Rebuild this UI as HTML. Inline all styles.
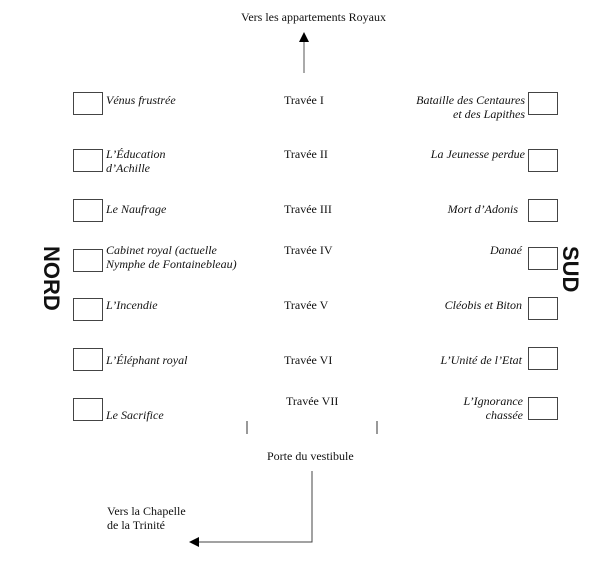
<!DOCTYPE html>
<html><head><meta charset="utf-8"><style>
body{margin:0;width:610px;height:576px;background:#fff;position:relative;overflow:hidden;font-family:"Liberation Serif",serif;font-size:12px;color:#111}
.t{position:absolute;line-height:14px;white-space:nowrap}
.i{font-style:italic}
.r{text-align:right}
.b{position:absolute;width:28px;height:21px;border:1px solid #444}
.L{left:73px}.R{left:528px}
.v{position:absolute;font-family:"Liberation Sans",sans-serif;font-weight:bold;font-size:22px;transform-origin:0 0;transform:rotate(90deg);line-height:22px}
</style></head><body>
<svg width="610" height="576" style="position:absolute;left:0;top:0">
<line x1="304" y1="42" x2="304" y2="73" stroke="#555" stroke-width="1"/>
<polygon points="304,32 299,42 309,42" fill="#000"/>
<line x1="247" y1="421" x2="247" y2="434" stroke="#333"/>
<line x1="377" y1="421" x2="377" y2="434" stroke="#333"/>
<polyline points="312,471 312,542 198,542" fill="none" stroke="#444"/>
<polygon points="189,542 199,537 199,547" fill="#000"/>
</svg>
<div class="t" style="left:241px;top:10px">Vers les appartements Royaux</div>

<div class="b L" style="top:92px"></div>
<div class="b L" style="top:149px"></div>
<div class="b L" style="top:199px"></div>
<div class="b L" style="top:249px"></div>
<div class="b L" style="top:298px"></div>
<div class="b L" style="top:348px"></div>
<div class="b L" style="top:398px"></div>

<div class="b R" style="top:92px"></div>
<div class="b R" style="top:149px"></div>
<div class="b R" style="top:199px"></div>
<div class="b R" style="top:247px"></div>
<div class="b R" style="top:297px"></div>
<div class="b R" style="top:347px"></div>
<div class="b R" style="top:397px"></div>

<div class="t i" style="left:106px;top:93px">Vénus frustrée</div>
<div class="t i" style="left:106px;top:147px">L’Éducation<br>d’Achille</div>
<div class="t i" style="left:106px;top:202px">Le Naufrage</div>
<div class="t i" style="left:106px;top:243px">Cabinet royal (actuelle<br>Nymphe de Fontainebleau)</div>
<div class="t i" style="left:106px;top:298px">L’Incendie</div>
<div class="t i" style="left:106px;top:353px">L’Éléphant royal</div>
<div class="t i" style="left:106px;top:408px">Le Sacrifice</div>

<div class="t i r" style="right:85px;top:93px">Bataille des Centaures<br>et des Lapithes</div>
<div class="t i r" style="right:85px;top:147px">La Jeunesse perdue</div>
<div class="t i r" style="right:92px;top:202px">Mort d’Adonis</div>
<div class="t i r" style="right:88px;top:243px">Danaé</div>
<div class="t i r" style="right:88px;top:298px">Cléobis et Biton</div>
<div class="t i r" style="right:88px;top:353px">L’Unité de l’Etat</div>
<div class="t i r" style="right:87px;top:394px">L’Ignorance<br>chassée</div>

<div class="t" style="left:284px;top:93px">Travée I</div>
<div class="t" style="left:284px;top:147px">Travée II</div>
<div class="t" style="left:284px;top:202px">Travée III</div>
<div class="t" style="left:284px;top:243px">Travée IV</div>
<div class="t" style="left:284px;top:298px">Travée V</div>
<div class="t" style="left:284px;top:353px">Travée VI</div>
<div class="t" style="left:286px;top:394px">Travée VII</div>

<div class="t" style="left:267px;top:449px">Porte du vestibule</div>
<div class="t" style="left:107px;top:504px">Vers la Chapelle<br>de la Trinité</div>

<div class="v" style="left:62px;top:246px">NORD</div>
<div class="v" style="left:581px;top:246px">SUD</div>
</body></html>
